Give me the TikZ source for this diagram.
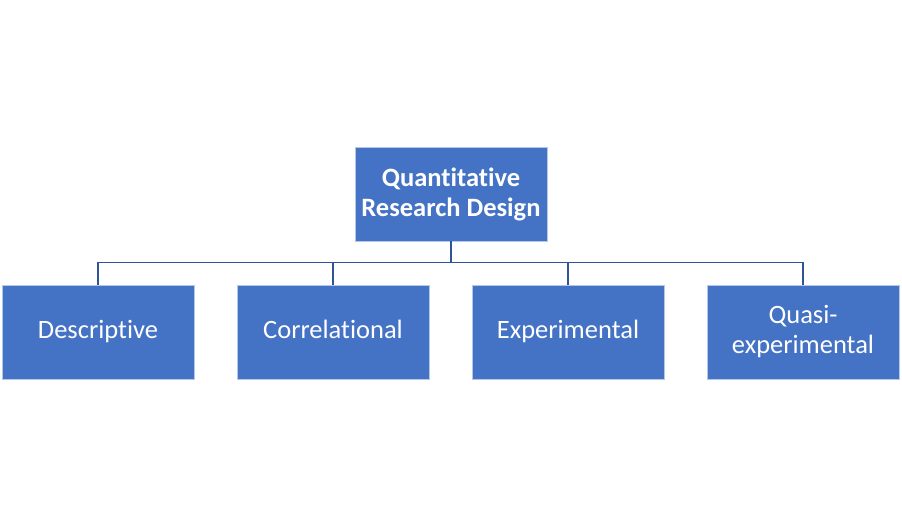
\documentclass[tikz,border=0pt]{standalone}
\usepackage{fontspec}
\setmainfont{Carlito}[Ligatures=NoCommon]
\usetikzlibrary{positioning}
\definecolor{boxblue}{HTML}{4472C4}
\definecolor{lineblue}{HTML}{2F5597}

\begin{document}
\begin{tikzpicture}[x=1pt,y=-1pt,
    design/.style={draw=boxblue!40!white, line width=0.8pt, fill=boxblue,
      text=white, minimum width=192pt, minimum height=94pt, align=center,
      inner sep=0pt, font=\fontsize{26.5}{30}\selectfont},
    oneline/.style={text height=18pt, text depth=5pt},
    link/.style={draw=lineblue, line width=1.6pt}]
     \useasboundingbox (0,0) rectangle (902,526);
     \node[design, font=\bfseries\fontsize{26.5}{30}\selectfont] (qrd) at (451,194) {Quantitative\\Research Design};

     \node[design, oneline] (desc) at (98,332)  {Descriptive};
     \node[design, oneline] (corr) at (333,332) {Correlational};
     \node[design, oneline] (expe) at (568,332) {Experimental};
     \node[design] (quasi) at (803,332) {Quasi-\\experimental};

     \draw[link] (qrd.south) -- ++(0,21) -| (desc.north);
     \draw[link] (qrd.south) -- ++(0,21) -| (corr.north);
     \draw[link] (qrd.south) -- ++(0,21) -| (expe.north);
     \draw[link] (qrd.south) -- ++(0,21) -| (quasi.north);

  \end{tikzpicture}
\end{document}
